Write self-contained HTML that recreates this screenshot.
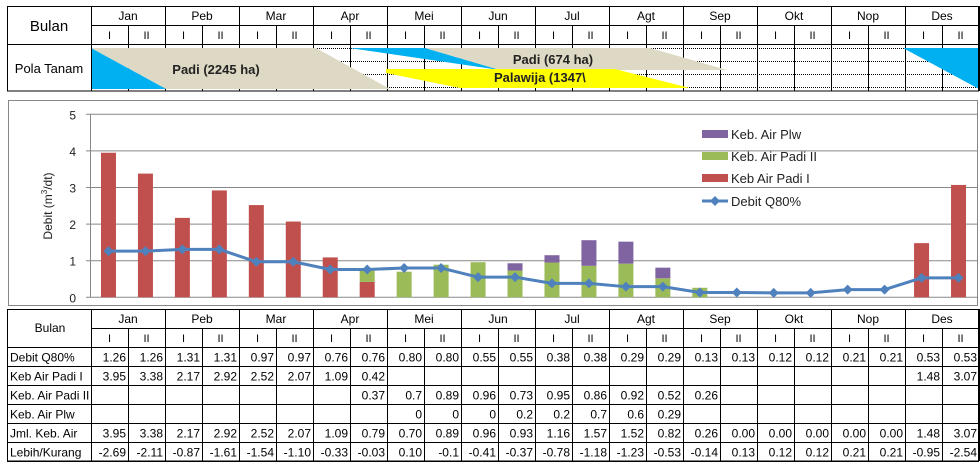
<!DOCTYPE html>
<html><head><meta charset="utf-8"><style>
body{margin:0;background:#fff;}
svg{display:block;font-family:"Liberation Sans",Arial,sans-serif;}
</style></head><body>
<svg id="root" width="980" height="462" viewBox="0 0 980 462">
<g id="topg"></g>
<g id="chart"></g>
<g id="bottom"></g>
</svg>
<script>
const months=["Jan","Peb","Mar","Apr","Mei","Jun","Jul","Agt","Sep","Okt","Nop","Des"];
const debit=[1.26,1.26,1.31,1.31,0.97,0.97,0.76,0.76,0.80,0.80,0.55,0.55,0.38,0.38,0.29,0.29,0.13,0.13,0.12,0.12,0.21,0.21,0.53,0.53];
const padiI=[3.95,3.38,2.17,2.92,2.52,2.07,1.09,0.42,null,null,null,null,null,null,null,null,null,null,null,null,null,null,1.48,3.07];
const padiII=[null,null,null,null,null,null,null,0.37,0.7,0.89,0.96,0.73,0.95,0.86,0.92,0.52,0.26,null,null,null,null,null,null,null];
const plw=[null,null,null,null,null,null,null,null,0,0,0,0.2,0.2,0.7,0.6,0.29,null,null,null,null,null,null,null,null];
const jml=["3.95","3.38","2.17","2.92","2.52","2.07","1.09","0.79","0.70","0.89","0.96","0.93","1.16","1.57","1.52","0.82","0.26","0.00","0.00","0.00","0.00","0.00","1.48","3.07"];
const lebih=["-2.69","-2.11","-0.87","-1.61","-1.54","-1.10","-0.33","-0.03","0.10","-0.1","-0.41","-0.37","-0.78","-1.18","-1.23","-0.53","-0.14","0.13","0.12","0.12","0.21","0.21","-0.95","-2.54"];
const yTicks=[0,1,2,3,4,5];
const NS="http://www.w3.org/2000/svg";
function mk(p,tag,at,txt){const e=document.createElementNS(NS,tag);for(const k in at)e.setAttribute(k,at[k]);if(txt!==undefined)e.textContent=txt;p.appendChild(e);return e;}
const L=91,CW=37;
const colX=i=>L+i*CW;
// ---------- top table ----------
const topG=document.getElementById('topg');
[48,61,74,87].forEach(yy=>mk(topG,'line',{x1:L,x2:979,y1:yy+0.5,y2:yy+0.5,stroke:'#000','stroke-width':1,'stroke-dasharray':'1,1'}));
for(let i=0;i<=24;i++){const x=colX(i)+0.5;mk(topG,'line',{x1:x,x2:x,y1:i%2?25:6,y2:91,stroke:'#000'});}
const shapes=[
 ["padi-2245-shape","#ddd9c4","91,48 316,48 390,89 166,89"],
 ["padi-2245-blue","#00b0f0","91,48 166,89 91,89"],
 ["padi-674-blue","#00b0f0","349,48 425,48 500,70"],
 ["padi-674-shape","#ddd9c4","425,48 650,48 727,70 500,70"],
 ["palawija-shape","#ffff00","386,69 615,69 690,88 460,88 386,73"],
 ["des-blue","#00b0f0","903,48 979,48 979,89"]];
shapes.forEach(s=>{const e=mk(topG,'polygon',{points:s[2],fill:s[1]});

});
mk(topG,'rect',{x:7.5,y:6.5,width:971,height:84.5,fill:'none',stroke:'#000'});
mk(topG,'line',{x1:L,x2:979,y1:25.5,y2:25.5,stroke:'#000'});
mk(topG,'line',{x1:7,x2:979,y1:44.5,y2:44.5,stroke:'#000'});
mk(topG,'line',{x1:L+0.5,x2:L+0.5,y1:6,y2:91,stroke:'#000'});
let t=mk(topG,'text',{x:49,y:31,'font-size':15,'text-anchor':'middle'},'Bulan');

mk(topG,'text',{x:49,y:73,'font-size':13,'text-anchor':'middle'},'Pola Tanam');
months.forEach((m,i)=>{mk(topG,'text',{x:colX(2*i)+CW,y:20,'font-size':12,'text-anchor':'middle'},m);
 mk(topG,'text',{x:colX(2*i)+CW/2,y:39,'font-size':11,'text-anchor':'middle'},'I');
 mk(topG,'text',{x:colX(2*i)+CW*1.5,y:39,'font-size':11,'text-anchor':'middle'},'II');});
mk(topG,'text',{x:216,y:74,'font-size':13,'font-weight':'bold','text-anchor':'middle',fill:'#222'},'Padi (2245 ha)');
mk(topG,'text',{x:553,y:64,'font-size':13,'font-weight':'bold','text-anchor':'middle',fill:'#222'},'Padi (674 ha)');
mk(topG,'text',{x:494,y:82,'font-size':13,'font-weight':'bold',fill:'#222'},'Palawija (1347\\');
// ---------- chart ----------
const ch=document.getElementById('chart');
const PL=90,PR=977,Y0=297.3,Y5=114.3;
const yS=v=>Y0-(Y0-Y5)*v/5;
const cx=i=>PL+(i+0.5)*(PR-PL)/24;
mk(ch,'rect',{x:8.5,y:100.5,width:969,height:205,fill:'#fff',stroke:'#888'});
yTicks.forEach(v=>{mk(ch,'line',{x1:86,x2:PR,y1:yS(v),y2:yS(v),stroke:'#888'});
 mk(ch,'text',{x:76,y:yS(v)+5,'font-size':12,'text-anchor':'end',fill:'#222'},v);});
mk(ch,'line',{x1:PL+0.5,x2:PL+0.5,y1:Y5,y2:Y0,stroke:'#888'});
let yt=mk(ch,'text',{transform:'translate(52,206) rotate(-90)','font-size':12,'text-anchor':'middle',fill:'#222'});
yt.innerHTML='Debit  (m<tspan font-size="8" dy="-5">3</tspan><tspan dy="5">/dt)</tspan>';

const BW=15;
for(let i=0;i<24;i++){let base=0;
 [[padiI,'#c0504d','bar-padi-i'],[padiII,'#9bbb59','bar-padi-ii'],[plw,'#8064a2','bar-plw']].forEach(s=>{
  const v=s[0][i];if(v){const r=mk(ch,'rect',{x:cx(i)-BW/2,y:yS(base+v),width:BW,height:yS(base)-yS(base+v),fill:s[1]});
  base+=v;}});}
const pts=debit.map((v,i)=>cx(i)+','+yS(v)).join(' ');
const ln=mk(ch,'polyline',{points:pts,fill:'none',stroke:'#4f81bd','stroke-width':3});

debit.forEach((v,i)=>{const d=mk(ch,'polygon',{points:`${cx(i)},${yS(v)-5} ${cx(i)+5},${yS(v)} ${cx(i)},${yS(v)+5} ${cx(i)-5},${yS(v)}`,fill:'#4f81bd'});
 });
const leg=[['Keb. Air Plw','#8064a2'],['Keb. Air Padi II','#9bbb59'],['Keb Air Padi I','#c0504d']];
leg.forEach((l,i)=>{const yy=134+i*22;const g=mk(ch,'g',{});
 
 mk(g,'rect',{x:702,y:yy-4,width:26,height:8,fill:l[1]});
 mk(g,'text',{x:731,y:yy+5,'font-size':13,fill:'#222'},l[0]);});
const lg=mk(ch,'g',{});
mk(lg,'line',{x1:702,x2:728,y1:201,y2:201,stroke:'#4f81bd','stroke-width':3});
mk(lg,'polygon',{points:'715,196 720,201 715,206 710,201',fill:'#4f81bd'});
mk(lg,'text',{x:731,y:206,'font-size':13,fill:'#222'},'Debit Q80%');
// ---------- bottom table ----------
const bt=document.getElementById('bottom');
const rows=[['Debit Q80%',debit.map(v=>v.toFixed(2))],['Keb Air Padi I',padiI.map(v=>v==null?'':v.toFixed(2))],
['Keb. Air Padi II',padiII.map(v=>v==null?'':String(v))],['Keb. Air Plw',plw.map(v=>v==null?'':String(v))],
['Jml. Keb. Air',jml],['Lebih/Kurang',lebih]];
const T0=309.5,RH=19;
mk(bt,'rect',{x:7.5,y:T0,width:971,height:461-T0,fill:'none',stroke:'#000'});
mk(bt,'line',{x1:L,x2:979,y1:328.5,y2:328.5,stroke:'#000'});
for(let r=0;r<=6;r++){const yy=347.5+r*RH;mk(bt,'line',{x1:7,x2:979,y1:yy,y2:yy,stroke:'#000'});}
for(let i=0;i<=24;i++){const x=colX(i)+0.5;mk(bt,'line',{x1:x,x2:x,y1:i%2?328:309,y2:461,stroke:'#000'});}
mk(bt,'text',{x:50,y:332,'font-size':12,'text-anchor':'middle'},'Bulan');
months.forEach((m,i)=>{mk(bt,'text',{x:colX(2*i)+CW,y:323,'font-size':12,'text-anchor':'middle'},m);
 mk(bt,'text',{x:colX(2*i)+CW/2,y:342,'font-size':11,'text-anchor':'middle'},'I');
 mk(bt,'text',{x:colX(2*i)+CW*1.5,y:342,'font-size':11,'text-anchor':'middle'},'II');});
rows.forEach((r,ri)=>{const yy=347.5+ri*RH+14;
 const lb=mk(bt,'text',{x:10,y:yy,'font-size':12},r[0]);
 
 r[1].forEach((v,i)=>{if(v!=='')mk(bt,'text',{x:colX(i+1)-2,y:yy,'font-size':12,'text-anchor':'end'},v);});});
</script>
</body></html>
